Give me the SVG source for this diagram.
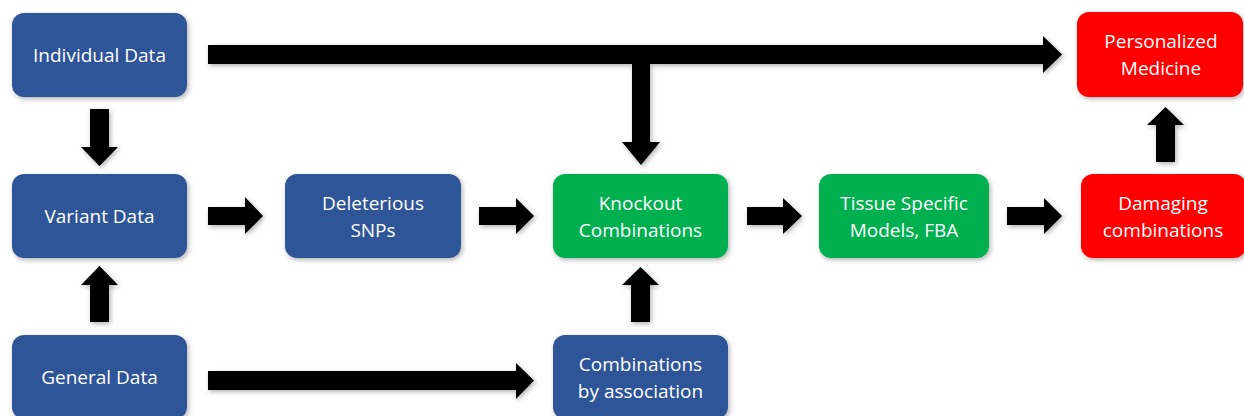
<svg xmlns="http://www.w3.org/2000/svg" width="1244" height="416" viewBox="0 0 1244 416">
<defs>
<filter id="sh" x="-10%" y="-20%" width="130%" height="150%">
<feDropShadow dx="1.5" dy="2" stdDeviation="2.5" flood-color="#000" flood-opacity="0.3"/>
</filter>
<style>
.blue{fill:#2F5597}
.green{fill:#00B050}
.red{fill:#FF0000}
.box{filter:url(#sh)}
.t{font-family:"Open Sans","Noto Sans",sans-serif;font-size:19px;fill:#fff;text-anchor:middle}
.arr{fill:#000;filter:url(#sh)}
</style>
</defs>
<rect width="1244" height="416" fill="#fff"/>
<g id="connectors">
<polygon class="arr" points="208,45 1043,45 1043,36 1062,54.5 1043,73 1043,64 208,64"/>
<polygon class="arr" points="632,64 650,64 650,142 660,142 641,165 622,142 632,142"/>
<polygon class="arr" points="90,109 109,109 109,147 118,147 99.5,166 81,147 90,147"/>
<polygon class="arr" points="90,322 109,322 109,285 118,285 99.5,266 81,285 90,285"/>
<polygon class="arr" points="208,207 245,207 245,197 263,216 245,234 245,225 208,225"/>
<polygon class="arr" points="479,207 516,207 516,198 534,216 516,234 516,225 479,225"/>
<polygon class="arr" points="747,207 783,207 783,198 802,216 783,234 783,225 747,225"/>
<polygon class="arr" points="1007,207 1044,207 1044,198 1062,216 1044,234 1044,225 1007,225"/>
<polygon class="arr" points="631,322 650,322 650,285 659,285 640.5,267 622,285 631,285"/>
<polygon class="arr" points="1156,162 1175,162 1175,125 1184,125 1165.5,107 1147,125 1156,125"/>
<polygon class="arr" points="208,371 516,371 516,363 534,380.5 516,399 516,390 208,390"/>
</g>
<g id="individual"><rect class="box blue" x="12" y="13" width="175" height="84" rx="12"/><text class="t" x="99.5" y="62">Individual Data</text></g>
<g id="variant"><rect class="box blue" x="12" y="174" width="175" height="84" rx="12"/><text class="t" x="99.5" y="223">Variant Data</text></g>
<g id="general"><rect class="box blue" x="12" y="335" width="175" height="84" rx="12"/><text class="t" x="99.5" y="384">General Data</text></g>
<g id="deleterious"><rect class="box blue" x="285" y="174" width="176" height="84" rx="12"/><text class="t" x="373" y="210">Deleterious</text><text class="t" x="373" y="237">SNPs</text></g>
<g id="knockout"><rect class="box green" x="553" y="174" width="175" height="84" rx="12"/><text class="t" x="640.5" y="210">Knockout</text><text class="t" x="640.5" y="237">Combinations</text></g>
<g id="association"><rect class="box blue" x="553" y="335" width="175" height="84" rx="12"/><text class="t" x="640.5" y="371">Combinations</text><text class="t" x="640.5" y="398">by association</text></g>
<g id="tissue"><rect class="box green" x="819" y="174" width="170" height="84" rx="12"/><text class="t" x="904" y="210">Tissue Specific</text><text class="t" x="904" y="237">Models, FBA</text></g>
<g id="damaging"><rect class="box red" x="1081" y="174" width="165" height="84" rx="12"/><text class="t" x="1163" y="210">Damaging</text><text class="t" x="1163" y="237">combinations</text></g>
<g id="personalized"><rect class="box red" x="1077" y="12" width="166" height="85" rx="12"/><text class="t" x="1161" y="48">Personalized</text><text class="t" x="1161" y="75">Medicine</text></g>
</svg>
